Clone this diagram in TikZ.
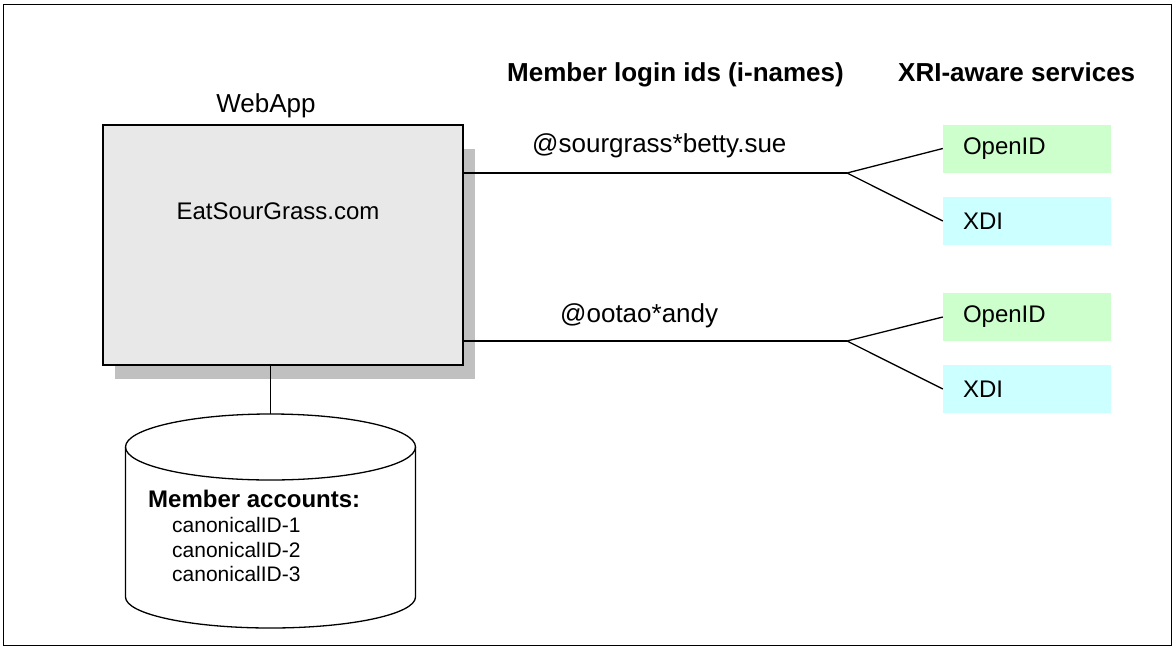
\documentclass[tikz,border=0pt]{standalone}
\usepackage{fontspec}
\setmainfont{Liberation Sans}
\definecolor{boxgray}{RGB}{232,232,232}
\definecolor{shadowgray}{RGB}{192,192,192}
\definecolor{oidgreen}{RGB}{204,255,204}
\definecolor{xdicyan}{RGB}{204,255,255}
\newcommand{\fsA}{\fontsize{26}{30}\selectfont}
\newcommand{\fsB}{\fontsize{24}{28}\selectfont}
\newcommand{\fsC}{\fontsize{21}{24.5}\selectfont}
\tikzset{
  line/.style={line width=1.3pt},
  appbox/.style={draw, line width=1.3pt, fill=boxgray, minimum width=360pt, minimum height=240pt, inner sep=0pt},
  svcbox/.style={minimum width=168pt, minimum height=48pt, inner sep=0pt, text width=128pt, align=left, font=\fsB},
  oid/.style={svcbox, fill=oidgreen},
  xdi/.style={svcbox, fill=xdicyan},
  heading/.style={anchor=base west, inner sep=0pt, font=\fsA\bfseries},
  iname/.style={anchor=base west, inner sep=0pt, font=\fsA},
  acct/.style={anchor=base west, inner sep=0pt, font=\fsC}
}
\begin{document}
\begin{tikzpicture}[x=1pt,y=-1pt]
\useasboundingbox (0,0) rectangle (1175,648);
\draw[line width=1.5pt] (3.5,4.5) rectangle (1171.5,645.5);

% headings
\node[heading] (h1) at (507,81) {Member login ids (i-names)};
\node[heading] (h2) at (898,81) {XRI-aware services};

% web application box
\node[anchor=base, inner sep=0pt, font=\fsA] (wal) at (266,112) {WebApp};
\fill[shadowgray] (115,149) rectangle (475,379);
\node[appbox] (webapp) at (283,245) {};
\node[anchor=base, inner sep=0pt, font=\fsB] (site) at (278,219) {EatSourGrass.com};

% services
\node[oid] (o1) at (1027,148.5) {OpenID};
\node[xdi] (x1) at (1027,221) {XDI};
\node[oid] (o2) at (1027,317) {OpenID};
\node[xdi] (x2) at (1027,389) {XDI};

% branch points
\coordinate (b1) at (847,173);
\coordinate (b2) at (847,341);

\draw[line] (b1 -| webapp.east) -- (b1);
\draw[line] (o1.west) -- (b1) -- (x1.west);
\draw[line] (b2 -| webapp.east) -- (b2);
\draw[line] (o2.west) -- (b2) -- (x2.west);

\node[iname] (n1) at (532,152) {@sourgrass*betty.sue};
\node[iname] (n2) at (560,322) {@ootao*andy};

% database cylinder
\coordinate (dbtop) at (270.5,414);
\filldraw[line, fill=white] (125.5,447) -- (125.5,597) arc[start angle=180, end angle=360, x radius=145pt, y radius=31pt] -- (415.5,447);
\draw[line] (270.5,447) ellipse[x radius=145pt, y radius=33pt];
\draw[line] (webapp.south -| dbtop) -- (dbtop);

\node[anchor=base west, inner sep=0pt, font=\fsB\bfseries] (acc) at (148,507) {Member accounts:};
\node[acct] (c1) at (172,532) {canonicalID-1};
\node[acct] (c2) at (172,557) {canonicalID-2};
\node[acct] (c3) at (172,581) {canonicalID-3};
\end{tikzpicture}
\end{document}
